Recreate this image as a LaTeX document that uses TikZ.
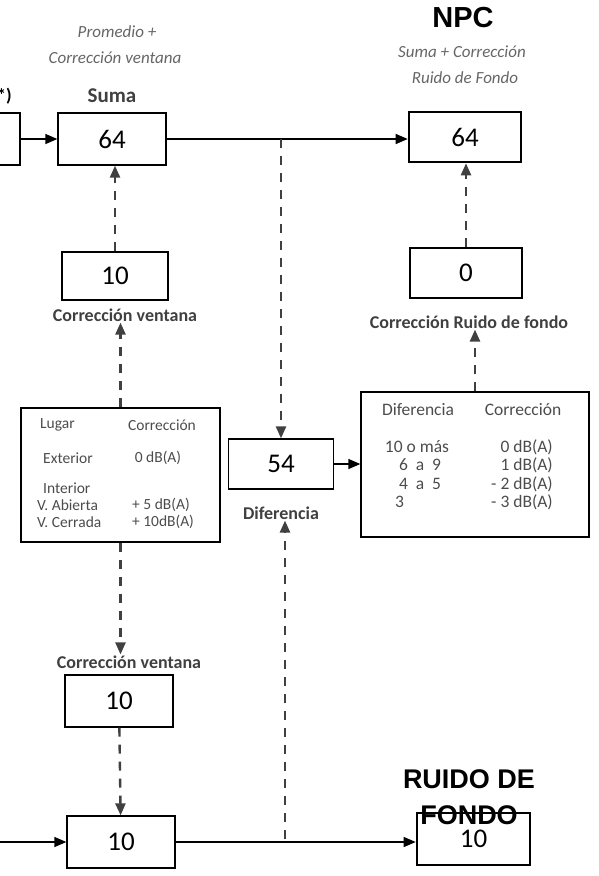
\documentclass[tikz,border=0pt]{standalone}
\usepackage{fontspec}
\setmainfont{Carlito}
\newfontfamily\arialfont{Liberation Sans}
\usetikzlibrary{arrows.meta}
\begin{document}
\begin{tikzpicture}[x=1pt,y=-1pt,
    box/.style={draw,line width=1.3pt,minimum width=108pt,minimum height=52pt,
      inner sep=0pt,font=\fontsize{27}{29}\selectfont},
    mainbox/.style={box,line width=2.6pt},
    lbl/.style={font=\bfseries\fontsize{18}{20}\selectfont,text=black!75,inner sep=1pt},
    note/.style={font=\itshape\fontsize{17}{19}\selectfont,text=black!60,inner sep=1pt},
    title/.style={font=\arialfont\bfseries\fontsize{27}{36}\selectfont,align=center,inner sep=0pt},
    cell/.style={font=\fontsize{15.5}{17}\selectfont,text=black!70,inner sep=0pt},
    rcell/.style={cell,font=\fontsize{17.5}{19}\selectfont},
    flow/.style={line width=1.3pt,-{Triangle[length=12pt,width=10pt]}},
    dashflow/.style={line width=2.4pt,black!75,dash pattern=on 9pt off 8pt,
      -{Triangle[length=12pt,width=10pt]}}]
  \useasboundingbox (0,0) rectangle (599,876);
  % top row
  \node[box] (prev) at (-34,139) {};
  \node[lbl,anchor=east,text=black] (prevl) at (13,96) {(*)};
  \node[box] (suma) at (112,139) {64};
  \node[lbl,font=\bfseries\fontsize{21}{23}\selectfont] (sumal) at (112,96) {Suma};
  \node[note] (prom) at (117,32) {Promedio +};
  \node[note] (promb) at (115,58) {Corrección ventana};
  \node[mainbox,minimum width=112pt,minimum height=50pt] (npc) at (465,137) {64};
  \node[title,font=\arialfont\bfseries\fontsize{29}{31}\selectfont] (npct) at (463,18) {NPC};
  \node[note] (npcn) at (462,52) {Suma + Corrección};
  \node[note] (npcnb) at (465,78) {Ruido de Fondo};
  \coordinate (b1) at (281,139);
  % correcciones
  \node[box,minimum width=106pt,minimum height=48pt] (cv1) at (115,276) {10};
  \node[lbl] (cv1l) at (125,315) {Corrección ventana};
  \node[box,minimum width=112pt,minimum height=50pt] (crf) at (466,273) {0};
  \node[lbl] (crfl) at (469,322) {Corrección Ruido de fondo};
  % tabla lugar
  \node[draw,line width=1.3pt,minimum width=199pt,minimum height=134pt] (lugar) at (120.5,475) {};
  \node[cell,anchor=west] (l1) at (40,425) {Lugar};
  \node[cell] (l2) at (162,425) {Corrección};
  \node[cell,anchor=west] (l3) at (43,458) {Exterior};
  \node[cell] (l4) at (158,458) {0 dB(A)};
  \node[cell,anchor=west] (l5) at (43,488) {Interior};
  \node[cell,anchor=west] (l6) at (37,505) {V. Abierta};
  \node[cell,anchor=west] (l7) at (37,522) {V. Cerrada};
  \node[cell] (l8) at (161,505) {+ 5 dB(A)};
  \node[cell] (l9) at (163,522) {+ 10dB(A)};
  % diferencia
  \node[box,minimum width=105pt,minimum height=50pt] (dif) at (281,464) {54};
  \node[lbl] (difl) at (281,513) {Diferencia};
  % tabla diferencia
  \node[draw,line width=1.3pt,minimum width=228pt,minimum height=145pt] (tdif) at (475,464.5) {};
  \node[rcell] (d1) at (418,410) {Diferencia};
  \node[rcell] (d2) at (523,410) {Corrección};
  \node[rcell] (d3) at (417,447) {10 o más};
  \node[rcell] (d4) at (420,465) {6 \ a \ 9};
  \node[rcell] (d5) at (420,484) {4 \ a \ 5};
  \node[rcell,anchor=west] (d6) at (395,502) {3};
  \node[rcell,anchor=east] (d7) at (553,447) {0 dB(A)};
  \node[rcell,anchor=east] (d8) at (553,465) {1 dB(A)};
  \node[rcell,anchor=east] (d9) at (553,484) {- 2 dB(A)};
  \node[rcell,anchor=east] (d10) at (553,502) {- 3 dB(A)};
  % bottom row
  \node[lbl] (cv2l) at (129,662) {Corrección ventana};
  \node[box] (cv2) at (119,701) {10};
  \node[box] (bot) at (121,842) {10};
  \coordinate (in2) at (0,842);
  \node[mainbox,minimum width=113pt,minimum height=52pt] (ruido) at (473.5,839) {\raisebox{-2pt}{10}};
  \node[title] (ruidot) at (469,797) {RUIDO DE\\FONDO};
  \coordinate (b2) at (285,839);
  % connectors
  \draw[flow] (prev) -- (suma);
  \draw[flow] (suma.east) -- (suma.east -| npc.west);
  \draw[flow] (in2) -- (bot);
  \draw[flow] (bot.east) -- (bot.east -| ruido.west);
  \draw[flow] (dif) -- (dif -| tdif.west);
  \begin{scope}[dashflow]
    \draw (cv1) -- (cv1 |- suma.south);
    \draw (lugar.north) -- (lugar.north |- cv1l.south);
    \draw (crf) -- (crf |- npc.south);
    \draw (tdif.north) -- (tdif.north |- crfl.south);
    \draw (b1) -- (dif);
    \draw (lugar.south) -- (lugar.south |- cv2l.north);
    \draw (cv2) -- (bot);
    \draw (b2) -- (b2 |- difl.south);
  \end{scope}
\end{tikzpicture}
\end{document}
